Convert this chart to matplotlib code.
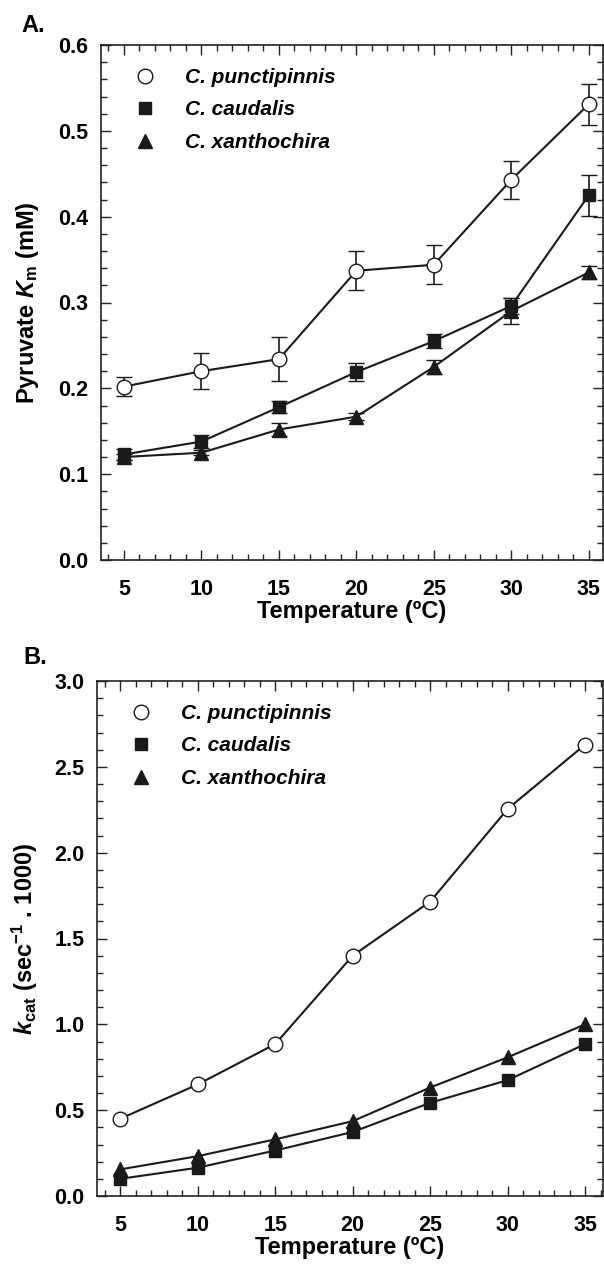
import numpy as np
import matplotlib
matplotlib.use("Agg")
import matplotlib.pyplot as plt
from matplotlib.ticker import MultipleLocator
from matplotlib.lines import Line2D

plt.rcParams['font.family'] = 'Liberation Sans'
plt.rcParams['font.weight'] = 'bold'
plt.rcParams['mathtext.fontset'] = 'custom'
plt.rcParams['mathtext.rm'] = 'Liberation Sans:bold'
plt.rcParams['mathtext.it'] = 'Liberation Sans:bold:italic'
plt.rcParams['mathtext.bf'] = 'Liberation Sans:bold'

temps = [5, 10, 15, 20, 25, 30, 35]
species = ["C. punctipinnis", "C. caudalis", "C. xanthochira"]

# panel A: pyruvate Km (mM) with error bars
km_punct = [0.202, 0.220, 0.234, 0.337, 0.344, 0.443, 0.531]
km_punct_err = [0.011, 0.021, 0.026, 0.023, 0.023, 0.022, 0.024]
km_caud = [0.123, 0.138, 0.178, 0.219, 0.255, 0.296, 0.425]
km_caud_err = [0.006, 0.008, 0.007, 0.010, 0.008, 0.009, 0.024]
km_xanth = [0.120, 0.125, 0.152, 0.167, 0.225, 0.290, 0.335]
km_xanth_err = [0.004, 0.003, 0.008, 0.004, 0.008, 0.015, 0.008]

# panel B: kcat (sec-1 . 1000)
kcat_punct = [0.45, 0.65, 0.885, 1.40, 1.715, 2.255, 2.63]
kcat_caud = [0.10, 0.165, 0.265, 0.373, 0.543, 0.675, 0.885]
kcat_xanth = [0.155, 0.232, 0.330, 0.436, 0.632, 0.808, 1.0]

INK = '#1a1a1a'
styles = [
    {"marker": "o", "mfc": "white", "ms": 10.5},
    {"marker": "s", "mfc": INK, "ms": 8.5},
    {"marker": "^", "mfc": INK, "ms": 9.5},
]

fig = plt.figure(figsize=(6.04, 12.66), dpi=100)
ax_a = fig.add_axes([100.7 / 604, 1 - 560 / 1266, 502 / 604, 515 / 1266])
ax_b = fig.add_axes([97 / 604, 1 - 1196 / 1266, 506 / 604, 515 / 1266])


def style_axes(ax):
    for sp in ax.spines.values():
        sp.set_linewidth(1.2)
        sp.set_color('#222222')
    ax.xaxis.set_major_locator(MultipleLocator(5))
    ax.xaxis.set_minor_locator(MultipleLocator(1))
    ax.tick_params(which='both', direction='in', top=True, right=True,
                   width=1.0, color='#222222')
    ax.tick_params(which='major', length=7, labelsize=15.5, pad=9)
    ax.tick_params(which='minor', length=4)
    ax.tick_params(axis='x', which='major', pad=14)
    ax.set_xlabel('Temperature (ºC)', fontsize=17, fontweight='bold', labelpad=0)
    for lab in ax.get_xticklabels() + ax.get_yticklabels():
        lab.set_fontweight('bold')


def add_legend(ax):
    handles = [Line2D([], [], linestyle='none', marker=st["marker"], ms=st["ms"],
                      mfc=st["mfc"], mec=INK, mew=1.0) for st in styles]
    ax.legend(handles, species, loc='upper left', bbox_to_anchor=(0.03, 0.992),
              frameon=False, handlelength=1.0, handletextpad=1.4, labelspacing=0.65,
              prop={'family': 'Liberation Sans', 'weight': 'bold',
                    'style': 'italic', 'size': 15})


# Panel A
km_all = [(km_punct, km_punct_err), (km_caud, km_caud_err), (km_xanth, km_xanth_err)]
for (vals, errs), name, st in zip(km_all, species, styles):
    ax_a.errorbar(temps, vals, yerr=errs, color=INK, lw=1.5,
                  marker=st["marker"], ms=st["ms"], mfc=st["mfc"], mec=INK,
                  mew=1.0, capsize=6, elinewidth=1.2, capthick=1.2)
ax_a.set_xlim(3.5, 35.9)
ax_a.set_ylim(0, 0.6)
ax_a.set_yticks(np.arange(0, 0.61, 0.1))
ax_a.set_yticklabels(['%.1f' % v for v in np.arange(0, 0.61, 0.1)])
ax_a.yaxis.set_minor_locator(MultipleLocator(0.02))
style_axes(ax_a)
ax_a.set_ylabel(r'Pyruvate $K_{\mathrm{m}}$ (mM)', fontsize=17, fontweight='bold', labelpad=12)
add_legend(ax_a)

# Panel B
kcat_all = [kcat_punct, kcat_caud, kcat_xanth]
for vals, name, st in zip(kcat_all, species, styles):
    ax_b.plot(temps, vals, color=INK, lw=1.5, marker=st["marker"],
              ms=st["ms"], mfc=st["mfc"], mec=INK, mew=1.0)
ax_b.set_xlim(3.5, 36.15)
ax_b.set_ylim(0, 3.0)
ax_b.set_yticks(np.arange(0, 3.01, 0.5))
ax_b.set_yticklabels(['%.1f' % v for v in np.arange(0, 3.01, 0.5)])
ax_b.yaxis.set_minor_locator(MultipleLocator(0.1))
style_axes(ax_b)
ax_b.set_ylabel(r'$k_{\mathrm{cat}}$ (sec$^{\mathrm{-1}}$ . 1000)', fontsize=17,
                fontweight='bold', labelpad=10)
add_legend(ax_b)

fig.text(21 / 604, 1 - 25 / 1266, 'A.', fontsize=17, fontweight='bold', va='center')
fig.text(23 / 604, 1 - 657 / 1266, 'B.', fontsize=17, fontweight='bold', va='center')

fig.savefig('out.png', dpi=100)
